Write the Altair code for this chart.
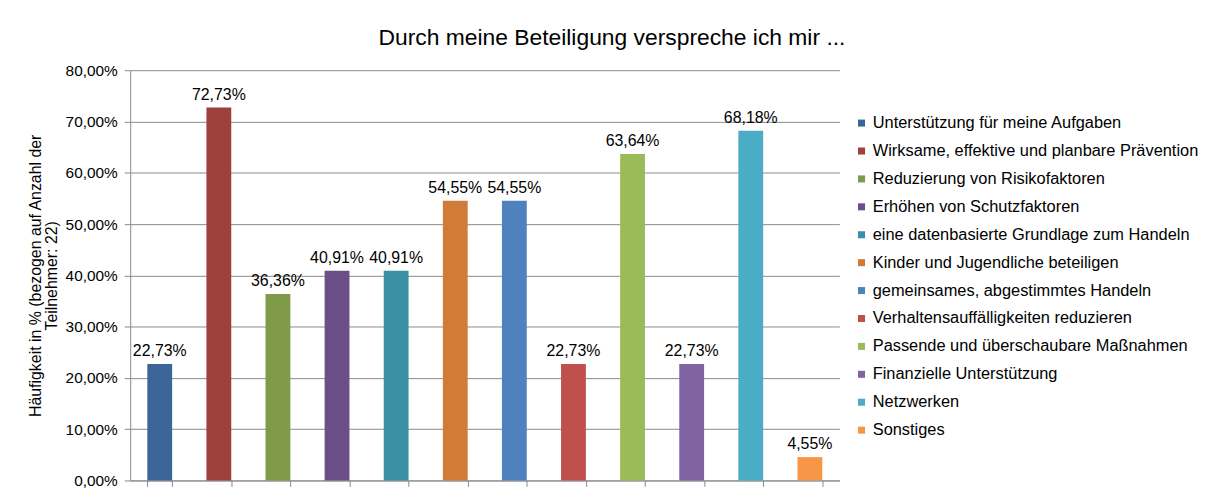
import altair as alt
import pandas as pd

categories = [
    "Unterstützung für meine Aufgaben",
    "Wirksame, effektive und planbare Prävention",
    "Reduzierung von Risikofaktoren",
    "Erhöhen von Schutzfaktoren",
    "eine datenbasierte Grundlage zum Handeln",
    "Kinder und Jugendliche beteiligen",
    "gemeinsames, abgestimmtes Handeln",
    "Verhaltensauffälligkeiten reduzieren",
    "Passende und überschaubare Maßnahmen",
    "Finanzielle Unterstützung",
    "Netzwerken",
    "Sonstiges",
]
values = [0.2273, 0.7273, 0.3636, 0.4091, 0.4091, 0.5455, 0.5455, 0.2273, 0.6364, 0.2273, 0.6818, 0.0455]
colors = ["#3C6699", "#9E403C", "#7F9A48", "#6A5087", "#3B8FA5", "#D07B37",
          "#4F81BD", "#C0504D", "#9BBB59", "#8064A2", "#4BACC6", "#F79646"]

df = pd.DataFrame({"Kategorie": categories, "Wert": values})
FONT = "Liberation Sans"

base = alt.Chart(df).encode(
    x=alt.X("Kategorie:N", sort=categories,
            scale=alt.Scale(paddingInner=0.58, paddingOuter=0.29),
            axis=alt.Axis(title=None, labels=False, tickBand="extent", tickSize=6,
                          domainColor="#8a8a8a", tickColor="#8a8a8a", grid=False)),
    y=alt.Y("Wert:Q", scale=alt.Scale(domain=[0, 0.8], nice=False),
            axis=alt.Axis(values=[i / 10 for i in range(9)],
                          labelExpr="replace(format(datum.value, '.2%'), '.', ',')",
                          title=["Häufigkeit in % (bezogen auf Anzahl der", "Teilnehmer: 22)"],
                          titleFontSize=16, titleFontWeight="normal", titleFont=FONT,
                          titleColor="#000000", titlePadding=6, titleLineHeight=16,
                          labelFontSize=15.5, labelFont=FONT, labelColor="#000000",
                          labelPadding=7, tickSize=6, tickColor="#8a8a8a",
                          domainColor="#8a8a8a", gridColor="#8a8a8a", gridWidth=1)),
)

bars = base.mark_bar().encode(
    color=alt.Color("Kategorie:N", sort=categories,
                    scale=alt.Scale(domain=categories, range=colors),
                    legend=alt.Legend(title=None, orient="none", legendX=728, legendY=45,
                                      symbolType="square", symbolSize=50, symbolStrokeWidth=0,
                                      labelFontSize=16.5, labelFont=FONT, labelColor="#000000",
                                      rowPadding=11.1, labelLimit=400, symbolOffset=0,
                                      labelOffset=3))
)

labels = base.transform_calculate(
    txt="replace(format(datum.Wert, '.2%'), '.', ',')"
).mark_text(dy=-13, fontSize=16, font=FONT, color="#000000").encode(text="txt:N")

chart = (bars + labels).properties(
    width=714, height=413,
    title=alt.TitleParams("Durch meine Beteiligung verspreche ich mir ...", fontSize=23,
                          font=FONT, fontWeight="normal", color="#000000",
                          anchor="middle", dx=128, offset=13),
    autosize=alt.AutoSizeParams(type="none"),
    padding={"left": 123, "top": 61, "right": 365, "bottom": 8},
).configure_view(stroke=None)

chart.save("out.html", embed_options={"renderer": "svg", "actions": False})
